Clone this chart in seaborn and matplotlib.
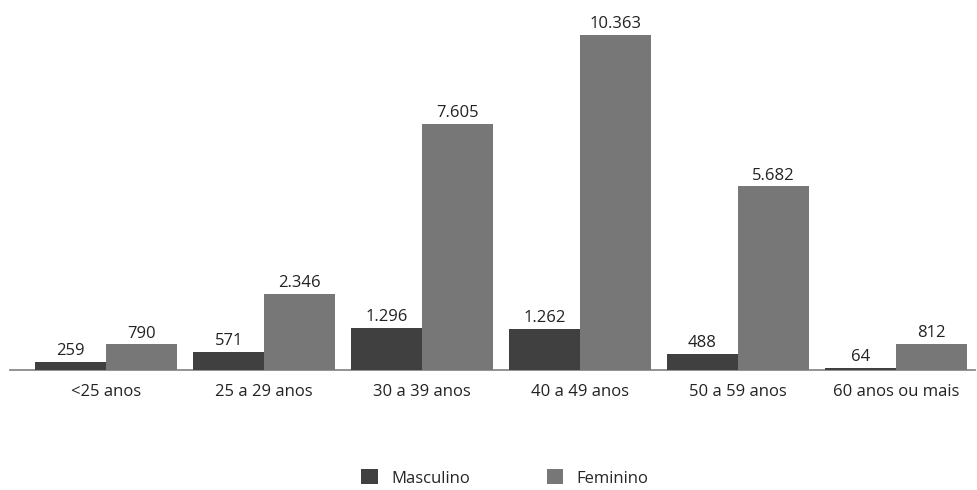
import matplotlib
matplotlib.use("Agg")
import matplotlib.pyplot as plt
from matplotlib.patches import Patch
import seaborn as sns
import pandas as pd

categories = ["<25 anos", "25 a 29 anos", "30 a 39 anos", "40 a 49 anos", "50 a 59 anos", "60 anos ou mais"]
masculino = [259, 571, 1296, 1262, 488, 64]
feminino = [790, 2346, 7605, 10363, 5682, 812]
series = ["Masculino", "Feminino"]
colors = {"Masculino": "#404040", "Feminino": "#777777"}

df = pd.DataFrame({
    "faixa": categories * 2,
    "sexo": [series[0]] * len(categories) + [series[1]] * len(categories),
    "valor": masculino + feminino,
})

sns.set_theme(style="white")
plt.rcParams["font.family"] = ["Open Sans", "DejaVu Sans"]

fig = plt.figure(figsize=(9.78, 4.9), dpi=100)
ax = fig.add_axes([10 / 978, 120 / 490, 965 / 978, 360 / 490])

sns.barplot(data=df, x="faixa", y="valor", hue="sexo", hue_order=series,
            palette=colors, width=0.9, gap=0, dodge=True, legend=False,
            saturation=1, linewidth=0, ax=ax)

for container in ax.containers:
    for bar in container:
        bar.set_zorder(3)
    labels = [f"{int(v):,}".replace(",", ".") for v in container.datavalues]
    ax.bar_label(container, labels=labels, padding=2, fontsize=12, color="#222222")

ax.set_xlim(-0.61, 5.5)
ax.set_ylim(0, 11135)
ax.set_xlabel("")
ax.set_ylabel("")
ax.set_yticks([])
for side in ["top", "right", "left"]:
    ax.spines[side].set_visible(False)
ax.spines["bottom"].set_color("#8a8a8a")
ax.spines["bottom"].set_linewidth(1.3)
ax.spines["bottom"].set_zorder(1)
ax.tick_params(axis="x", length=0, pad=10, labelsize=12, labelcolor="#222222")

handles = [Patch(facecolor=colors[s], edgecolor="none", label=s) for s in series]
fig.legend(handles=handles, loc="center", bbox_to_anchor=(505 / 978, 1 - 478 / 490),
           ncol=2, frameon=False, fontsize=12, handlelength=1.0, handleheight=1.0,
           columnspacing=4.6, handletextpad=0.8, borderpad=0)

fig.savefig("out.png", dpi=100)
